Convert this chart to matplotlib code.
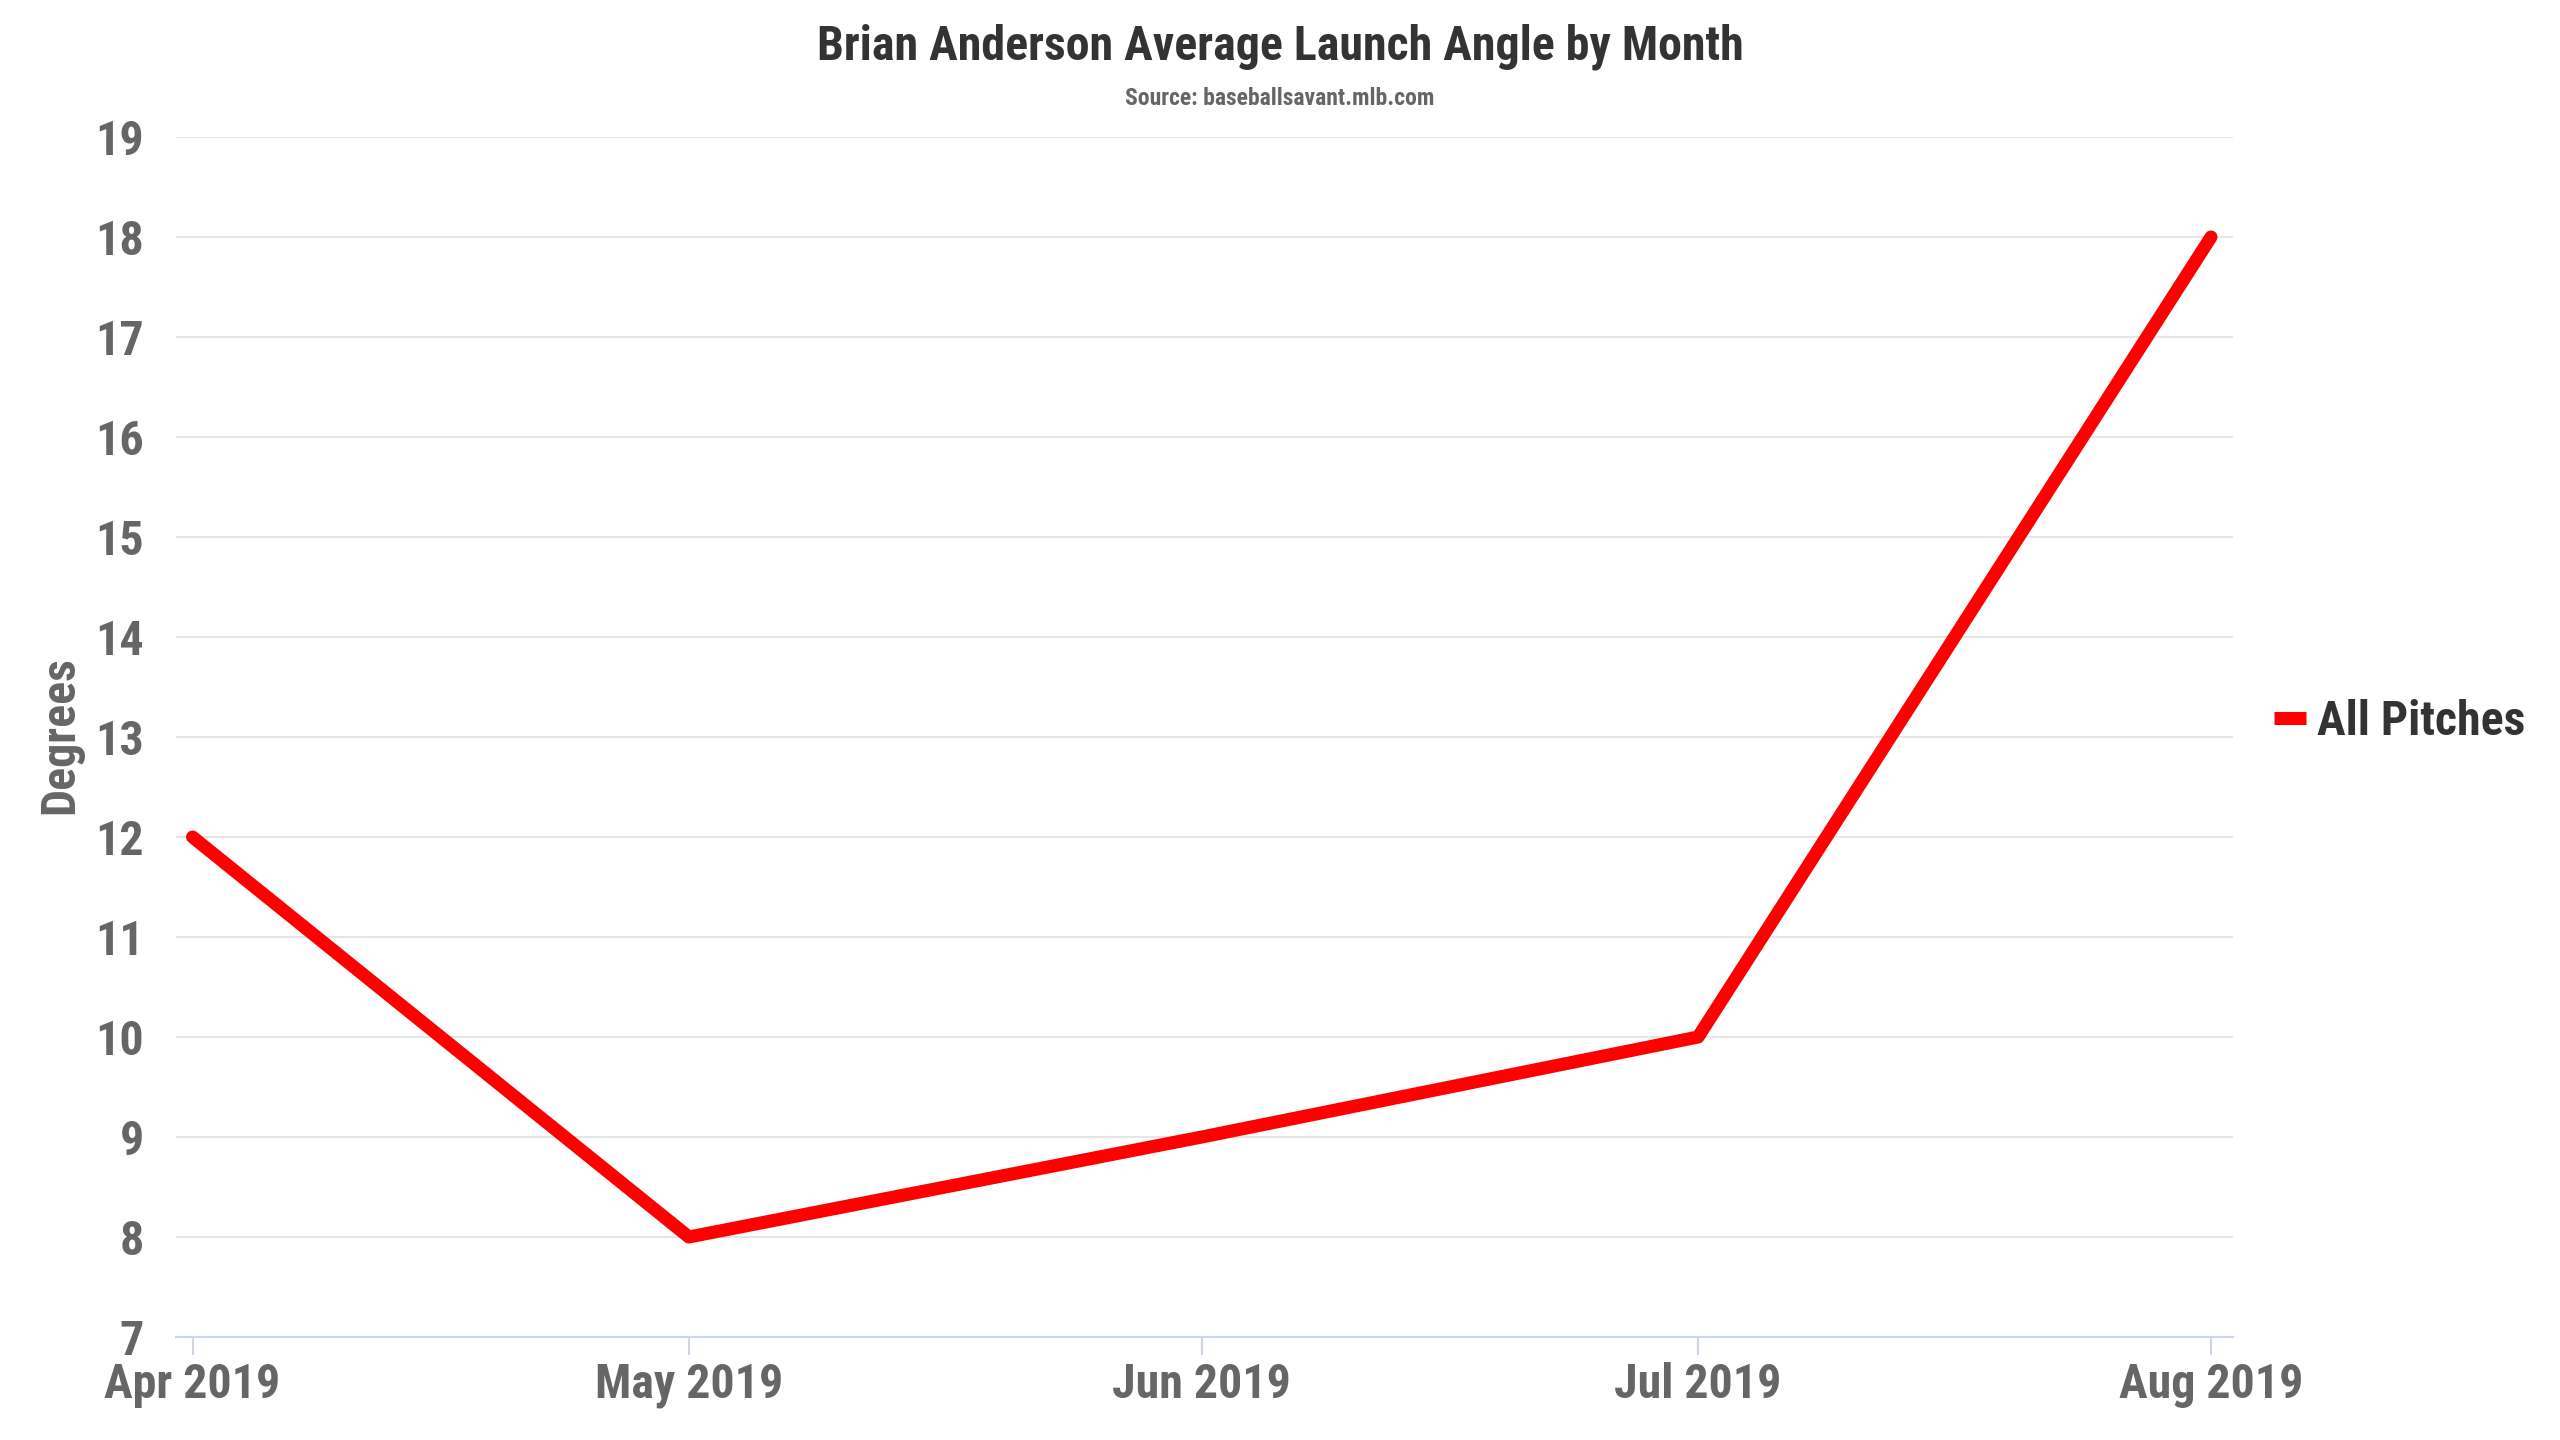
import matplotlib
matplotlib.use("Agg")
import matplotlib.pyplot as plt
from matplotlib.lines import Line2D
import datetime as dt

months = ["2019-04-01", "2019-05-01", "2019-06-01", "2019-07-01", "2019-08-01"]
tick_labels = ["Apr 2019", "May 2019", "Jun 2019", "Jul 2019", "Aug 2019"]
launch_angle = [12, 8, 9, 10, 18]
series_name = "All Pitches"
title = "Brian Anderson Average Launch Angle by Month"
subtitle = "Source: baseballsavant.mlb.com"
y_label = "Degrees"
y_ticks = list(range(7, 20))

FONT = ["Roboto Condensed", "Liberation Sans Narrow", "Roboto", "DejaVu Sans"]
plt.rcParams["font.family"] = FONT
plt.rcParams["font.weight"] = "bold"

W, H = 2560, 1440
dates = [dt.datetime.strptime(m, "%Y-%m-%d") for m in months]

fig = plt.figure(figsize=(W / 100, H / 100), dpi=100)
L, R, T, B = 176, 2233, 137, 1337
ax = fig.add_axes([L / W, 1 - B / H, (R - L) / W, (B - T) / H])

ax.plot(dates, launch_angle, color="#ff0000", lw=9.4, solid_capstyle="round",
        solid_joinstyle="round", zorder=3)

ax.set_ylim(7, 19)
ax.set_yticks(y_ticks)
ax.set_xlim(dates[0] - dt.timedelta(days=1.0), dates[-1] + dt.timedelta(days=1.33))
ax.set_xticks(dates)
ax.set_xticklabels(tick_labels)

ax.grid(axis="y", color="#e6e6e6", lw=1.5)
ax.set_axisbelow(True)
for s in ["top", "right", "left"]:
    ax.spines[s].set_visible(False)
ax.spines["bottom"].set_color("#ccd6eb")
ax.spines["bottom"].set_linewidth(1.5)

FS = 34.5
ax.tick_params(axis="y", length=0, pad=23, labelsize=FS, labelcolor="#666666")
ax.tick_params(axis="x", length=13, width=1.5, color="#ccd6eb", pad=5,
               labelsize=FS, labelcolor="#666666")
for t in ax.get_xticklabels() + ax.get_yticklabels():
    t.set_fontweight("bold")

ax.set_ylabel(y_label, fontsize=FS, color="#666666", fontweight="bold")
ax.yaxis.label.set_va("center")
ax.yaxis.set_label_coords((60.5 - L) / (R - L), (B - 735) / (B - T))

fig.text(0.5, 1 - 60 / H, title, ha="center", va="baseline", fontsize=34.5,
         color="#333333", fontweight="bold")
fig.text(0.5, 1 - 105 / H, subtitle, ha="center", va="baseline", fontsize=17,
         color="#666666", fontweight="bold")

# legend
handle = Line2D([0], [0], color="#ff0000", lw=9.4, solid_capstyle="butt")
leg = fig.legend([handle], [series_name], loc="center left",
                 bbox_to_anchor=(2274 / W, 1 - 722 / H), frameon=False,
                 prop={"size": FS, "weight": "bold"}, handlelength=0.668,
                 handletextpad=0.23, borderaxespad=0, borderpad=0)
for t in leg.get_texts():
    t.set_color("#333333")

fig.savefig("out.png", dpi=100, facecolor="white")
